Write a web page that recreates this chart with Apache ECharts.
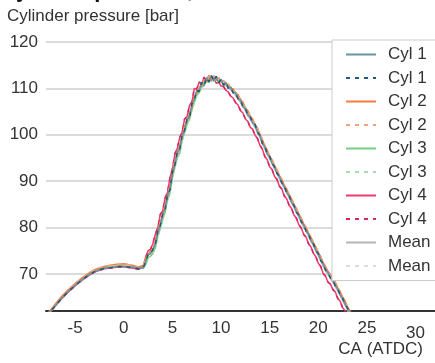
<!DOCTYPE html>
<html>
<head>
<meta charset="utf-8">
<script src="https://cdn.jsdelivr.net/npm/echarts@6/dist/echarts.min.js"></script>
<style>
  html, body { margin: 0; padding: 0; background: #fff; }
  #chart { width: 435px; height: 363px; }
</style>
</head>
<body>
<div id="chart"></div>
<script>
// crank angle (deg ATDC)
const ca = [-8, -7.5, -7, -6.5, -6, -5.5, -5, -4.5, -4, -3.5, -3, -2.5, -2, -1.5, -1, -0.5, 0, 0.5, 1, 1.5,
  2, 2.25, 2.5, 2.75, 3, 3.25, 3.5, 3.75, 4, 4.25, 4.5, 4.75, 5, 5.25, 5.5, 5.75, 6, 6.25, 6.5, 6.75,
  7, 7.25, 7.5, 7.75, 8, 8.25, 8.5, 8.75, 9, 9.25, 9.5, 9.75, 10, 10.25, 10.5, 10.75, 11, 11.25, 11.5, 11.75,
  12, 12.25, 12.5, 12.75, 13, 13.25, 13.5, 13.75, 14, 14.25, 14.5, 14.75, 15, 15.25, 15.5, 15.75,
  16, 16.25, 16.5, 16.75, 17, 17.25, 17.5, 17.75, 18, 18.25, 18.5, 18.75, 19, 19.25, 19.5, 19.75,
  20, 20.25, 20.5, 20.75, 21, 21.25, 21.5, 21.75, 22, 22.25, 22.5, 22.75, 23, 23.25, 23.5];

const cyl1 = [60.9, 62.0, 63.2, 64.5, 65.6, 66.6, 67.5, 68.4, 69.2, 69.9, 70.5, 70.9, 71.2, 71.3, 71.5, 71.6, 71.6, 71.5, 71.4, 71.1,
  71.3, 72.6, 74.2, 74.3, 75.3, 76.4, 79.2, 80.4, 82.9, 84.0, 87.1, 88.1, 91.9, 93.5, 96.3, 96.8,
  100.0, 100.9, 103.4, 103.7, 106.6, 107.5, 109.6, 109.3, 111.3, 110.6, 112.3, 111.4, 112.8, 111.6, 112.6, 111.2,
  112.0, 110.7, 111.3, 110.0, 110.3, 109.0, 109.1, 107.7, 107.5, 106.0, 105.7, 104.2, 103.9, 102.5, 102.2, 100.5,
  99.9, 98.1, 97.5, 95.8, 95.3, 93.8, 93.1, 91.7, 91.0, 89.6, 88.9, 87.5, 86.9, 85.4, 84.8, 83.3,
  82.7, 81.2, 80.6, 79.2, 78.6, 77.1, 76.5, 75.0, 74.4, 72.9, 72.2, 70.8, 70.3, 69.1, 68.7, 67.4,
  66.8, 65.4, 64.8, 63.4, 62.7, 61.3, 60.7];

const cyl2 = [61.1, 62.3, 63.6, 64.9, 66.0, 67.0, 67.9, 68.8, 69.6, 70.3, 70.9, 71.3, 71.6, 71.8, 72.0, 72.1, 72.2, 72.0, 71.8, 71.5,
  71.8, 73.5, 74.0, 75.1, 75.0, 77.4, 78.7, 81.3, 82.3, 85.0, 86.5, 89.2, 91.4, 94.5, 95.6, 97.8,
  99.3, 101.9, 102.7, 104.6, 105.8, 108.4, 108.8, 110.4, 110.4, 111.8, 111.4, 112.6, 111.9, 112.7, 111.7, 112.3,
  111.3, 111.7, 110.8, 110.9, 110.0, 109.9, 109.0, 108.6, 107.6, 107.0, 105.8, 105.2, 104.0, 103.4, 102.2, 101.4,
  100.0, 99.0, 97.6, 96.7, 95.4, 94.6, 93.3, 92.5, 91.2, 90.4, 89.1, 88.3, 87.1, 86.2, 85.0, 84.1,
  82.9, 82.0, 80.8, 80.0, 78.8, 77.9, 76.7, 75.8, 74.6, 73.7, 72.4, 71.6, 70.5, 69.9, 68.9, 68.2,
  67.0, 66.2, 65.0, 64.2, 62.9, 62.1, 60.9];

const cyl3 = [60.8, 62.0, 63.3, 64.6, 65.7, 66.7, 67.6, 68.5, 69.3, 70.0, 70.6, 71.0, 71.3, 71.5, 71.6, 71.7, 71.7, 71.6, 71.5, 71.2,
  71.2, 72.0, 73.4, 73.8, 74.4, 75.7, 78.0, 79.8, 81.7, 83.3, 85.9, 87.4, 90.6, 92.9, 95.0, 96.0,
  98.7, 100.4, 102.2, 103.2, 105.3, 107.0, 108.4, 109.1, 110.2, 110.6, 111.5, 111.3, 112.1, 111.5, 112.0, 111.3,
  111.6, 110.9, 111.1, 110.3, 110.2, 109.4, 109.1, 108.1, 107.5, 106.5, 105.7, 104.6, 103.9, 102.9, 102.2, 100.9,
  99.9, 98.5, 97.5, 96.2, 95.3, 94.1, 93.2, 92.0, 91.1, 89.9, 89.0, 87.8, 86.9, 85.7, 84.8, 83.6,
  82.7, 81.5, 80.6, 79.5, 78.6, 77.4, 76.5, 75.3, 74.4, 73.2, 72.2, 71.1, 70.3, 69.4, 68.7, 67.7,
  66.8, 65.7, 64.8, 63.7, 62.7, 61.6, 60.7];

const cyl4 = [60.8, 62.0, 63.2, 64.4, 65.5, 66.5, 67.4, 68.3, 69.1, 69.8, 70.4, 70.8, 71.1, 71.2, 71.4, 71.5, 71.5, 71.4, 71.2, 71.0,
  71.6, 73.6, 75.0, 75.3, 76.6, 78.6, 80.0, 82.8, 83.6, 86.4, 87.6, 90.8, 92.6, 95.9, 97.0, 99.4,
  100.6, 103.4, 103.9, 106.3, 107.0, 110.0, 109.8, 111.4, 110.9, 112.4, 111.6, 112.7, 111.6, 112.2, 111.1, 111.4,
  110.5, 110.4, 109.6, 109.2, 108.3, 107.9, 106.9, 106.4, 105.2, 104.7, 103.4, 102.9, 101.6, 101.2, 99.9, 99.2,
  97.7, 96.9, 95.3, 94.6, 93.1, 92.5, 91.0, 90.4, 88.9, 88.3, 86.8, 86.2, 84.8, 84.1, 82.7, 82.0,
  80.6, 79.9, 78.5, 77.9, 76.5, 75.8, 74.4, 73.7, 72.3, 71.6, 70.1, 69.5, 68.2, 67.8, 66.6, 66.1,
  64.7, 64.1, 62.7, 62.1, 60.6, 60.0, 58.6];

const meanP = [60.9, 62.1, 63.3, 64.6, 65.7, 66.7, 67.6, 68.5, 69.3, 70.0, 70.6, 71.0, 71.3, 71.4, 71.6, 71.7, 71.7, 71.6, 71.5, 71.2,
  71.5, 72.9, 74.2, 74.6, 75.3, 77.0, 79.0, 81.1, 82.6, 84.7, 86.8, 88.9, 91.6, 94.2, 96.0, 97.5,
  99.6, 101.6, 103.0, 104.5, 106.2, 108.2, 109.2, 110.1, 110.7, 111.4, 111.7, 112.0, 112.1, 112.0, 111.9, 111.6,
  111.4, 110.9, 110.7, 110.1, 109.7, 109.1, 108.5, 107.7, 107.0, 106.1, 105.2, 104.2, 103.4, 102.5, 101.6, 100.5,
  99.4, 98.1, 97.0, 95.8, 94.8, 93.8, 92.7, 91.7, 90.6, 89.6, 88.5, 87.5, 86.4, 85.4, 84.3, 83.3,
  82.2, 81.2, 80.1, 79.2, 78.1, 77.1, 76.0, 75.0, 73.9, 72.9, 71.7, 70.8, 69.8, 69.1, 68.2, 67.4,
  66.3, 65.4, 64.3, 63.4, 62.2, 61.3, 60.2];

const xTicks = [-5, 0, 5, 10, 15, 20, 25, 30];

const FONT = "'Liberation Sans', Arial, Helvetica, sans-serif";
const DASH = " (dash)";

function pairs(ys) {
  return ca.map((x, i) => [x, ys[i]]);
}

function line(name, ys, color, dashed) {
  return {
    type: "line",
    name: name,
    data: pairs(ys),
    showSymbol: false,
    symbol: "none",
    clip: true,
    lineStyle: { color: color, width: 1.5, type: dashed ? [4, 5] : "solid" },
    itemStyle: { color: color },
    emphasis: { disabled: true },
  };
}

// drawn back to front: Cyl 1 ends up on top
const series = [
  line("Mean" + DASH, meanP, "#dcdcdc", true),
  line("Mean", meanP, "#b4b4b4", false),
  line("Cyl 4", cyl4, "#ee3b6e", false),
  line("Cyl 4" + DASH, cyl4, "#d9275e", true),
  line("Cyl 3", cyl3, "#74cc82", false),
  line("Cyl 3" + DASH, cyl3, "#a6deb0", true),
  line("Cyl 2", cyl2, "#f47b3b", false),
  line("Cyl 2" + DASH, cyl2, "#f4a07c", true),
  line("Cyl 1", cyl1, "#6593a5", false),
  line("Cyl 1" + DASH, cyl1, "#1f5a78", true),
];

const legendNames = ["Cyl 1", "Cyl 1" + DASH, "Cyl 2", "Cyl 2" + DASH, "Cyl 3", "Cyl 3" + DASH,
  "Cyl 4", "Cyl 4" + DASH, "Mean", "Mean" + DASH];

const chart = echarts.init(document.getElementById("chart"), null, { renderer: "canvas" });
chart.setOption({
  animation: false,
  backgroundColor: "#fff",
  title: [
    {
      text: "Cylinder pressure, raw and mean",
      left: 0, top: -20, padding: 0,
      textStyle: { fontFamily: FONT, fontSize: 22, fontWeight: "bold", color: "#111" },
    },
    {
      text: "Cylinder pressure [bar]",
      left: 7, top: 8, padding: 0,
      textStyle: { fontFamily: FONT, fontSize: 17, fontWeight: "normal", color: "#333" },
    },
    {
      text: "CA (ATDC)",
      right: 12, top: 341, padding: 0,
      textStyle: { fontFamily: FONT, fontSize: 17, fontWeight: "normal", color: "#333" },
    },
  ],
  legend: {
    orient: "vertical",
    left: 332, top: 40,
    padding: [6, 10, 6, 13],
    data: legendNames,
    formatter: (n) => n.replace(DASH, ""),
    itemWidth: 30, itemHeight: 14, itemGap: 6.5,
    itemStyle: { opacity: 0 },
    backgroundColor: "#fff",
    borderColor: "#cccccc", borderWidth: 1,
    selectedMode: false,
    textStyle: { fontFamily: FONT, fontSize: 17, color: "#333", lineHeight: 14, padding: [0, 0, 0, 7] },
  },
  grid: { left: 46, right: 0, top: 42, bottom: 52, containLabel: false, outerBoundsMode: "none" },
  xAxis: {
    type: "value",
    min: -8, max: 32,
    axisLine: { show: true, lineStyle: { color: "#333", width: 2 } },
    axisTick: { show: false },
    splitLine: { show: false },
    axisLabel: {
      customValues: xTicks,
      margin: 9,
      fontFamily: FONT, fontSize: 17, color: "#333",
      formatter: (v) => (v === 30 ? "{low|30}" : String(v)),
      rich: { low: { fontFamily: FONT, fontSize: 17, color: "#333", padding: [5, 0, 0, 0] } },
    },
  },
  yAxis: {
    type: "value",
    min: 62, max: 120,
    axisLine: { show: false },
    axisTick: { show: false },
    splitLine: { show: true, lineStyle: { color: "#cfcfcf", width: 1.5 } },
    axisLabel: { margin: 8, showMinLabel: false, fontFamily: FONT, fontSize: 17, color: "#333" },
  },
  series: series,
});
</script>
</body>
</html>
